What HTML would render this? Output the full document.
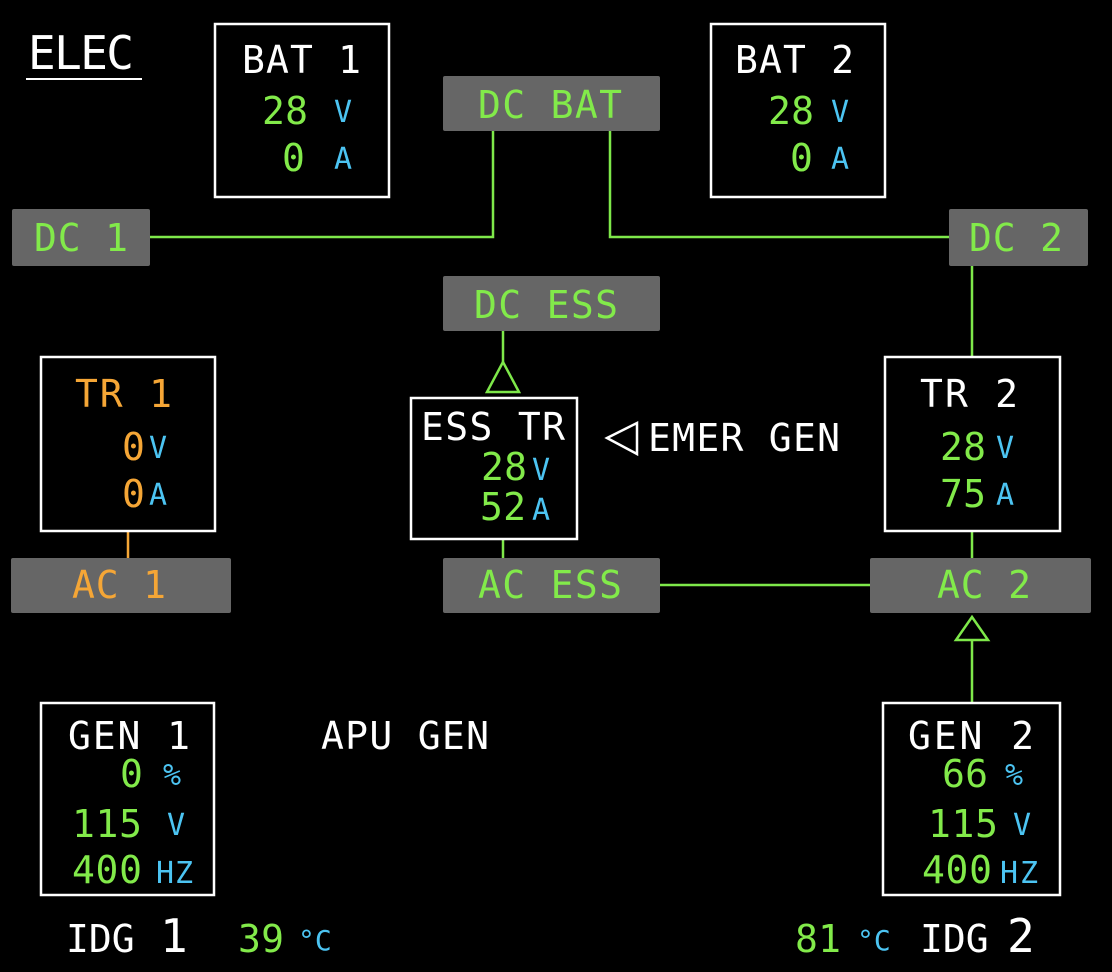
<!DOCTYPE html>
<html><head><meta charset="utf-8"><style>
html,body{margin:0;padding:0;background:#000;}
svg{display:block;}
text{font-family:"DejaVu Sans Mono","Liberation Mono",monospace;}
.w{fill:#fff}.g{fill:#82ea4a}.c{fill:#4cc4f2}.o{fill:#f5a636}
.L{font-size:38px}.u{font-size:30px}
</style></head><body>
<svg width="1112" height="972" viewBox="0 0 1112 972" xmlns="http://www.w3.org/2000/svg">
<rect width="1112" height="972" fill="#000"/>
<text x="28" y="69" class="w" font-size="46" textLength="106">ELEC</text>
<line x1="26" y1="79" x2="142" y2="79" stroke="#fff" stroke-width="2"/>
<g stroke="#7ee84a" stroke-width="2.5" fill="none">
<polyline points="150,237 493,237 493,131"/>
<polyline points="610,131 610,237 949,237"/>
<line x1="972" y1="266" x2="972" y2="357"/>
<line x1="503" y1="331" x2="503" y2="362"/>
<polygon points="503,362 487,392 519,392"/>
<line x1="503" y1="539" x2="503" y2="558"/>
<line x1="660" y1="585" x2="870" y2="585"/>
<line x1="972" y1="531" x2="972" y2="558"/>
<polygon points="972,617 956,640 988,640"/>
<line x1="972" y1="640" x2="972" y2="703"/>
</g>
<line x1="128" y1="531" x2="128" y2="558" stroke="#f5a636" stroke-width="2.5"/>
<polygon points="607,438 637,423 637,454" fill="none" stroke="#fff" stroke-width="2.5"/>
<g fill="none" stroke="#fff" stroke-width="2.5">
<rect x="215" y="24" width="174" height="173"/>
<rect x="711" y="24" width="174" height="173"/>
<rect x="41" y="357" width="174" height="174"/>
<rect x="885" y="357" width="175" height="174"/>
<rect x="411" y="398" width="166" height="141"/>
<rect x="41" y="703" width="173" height="192"/>
<rect x="883" y="703" width="177" height="192"/>
</g>
<g fill="#666">
<rect x="443" y="76" width="217" height="55" rx="2"/>
<rect x="12" y="209" width="138" height="57" rx="2"/>
<rect x="949" y="209" width="139" height="57" rx="2"/>
<rect x="443" y="276" width="217" height="55" rx="2"/>
<rect x="11" y="558" width="220" height="55" rx="2"/>
<rect x="443" y="558" width="217" height="55" rx="2"/>
<rect x="870" y="558" width="221" height="55" rx="2"/>
</g>
<g class="L">
<text x="478" y="118" class="g" textLength="144">DC BAT</text>
<text x="34" y="251" class="g" textLength="94">DC 1</text>
<text x="969" y="251" class="g" textLength="94">DC 2</text>
<text x="474" y="318" class="g" textLength="144">DC ESS</text>
<text x="72" y="598" class="o" textLength="94">AC 1</text>
<text x="478" y="598" class="g" textLength="144">AC ESS</text>
<text x="937" y="598" class="g" textLength="94">AC 2</text>
<text x="242" y="73" class="w" textLength="119">BAT 1</text>
<text x="262" y="124" class="g" textLength="46">28</text>
<text x="282" y="171" class="g">0</text>
<text x="735" y="73" class="w" textLength="119">BAT 2</text>
<text x="768" y="124" class="g" textLength="46">28</text>
<text x="790" y="171" class="g">0</text>
<text x="75" y="407" class="o" textLength="97">TR 1</text>
<text x="122" y="460" class="o">0</text>
<text x="122" y="507" class="o">0</text>
<text x="920" y="407" class="w" textLength="98">TR 2</text>
<text x="940" y="460" class="g" textLength="46">28</text>
<text x="940" y="507" class="g" textLength="46">75</text>
<text x="421" y="440" class="w" textLength="144">ESS TR</text>
<text x="481" y="480" class="g" textLength="46">28</text>
<text x="480" y="520" class="g" textLength="46">52</text>
<text x="648" y="451" class="w" textLength="192">EMER GEN</text>
<text x="321" y="749" class="w" textLength="168">APU GEN</text>
<text x="68" y="749" class="w" textLength="122">GEN 1</text>
<text x="120" y="787" class="g">0</text>
<text x="72" y="837" class="g" textLength="70">115</text>
<text x="72" y="883" class="g" textLength="70">400</text>
<text x="908" y="749" class="w" textLength="126">GEN 2</text>
<text x="942" y="787" class="g" textLength="46">66</text>
<text x="928" y="837" class="g" textLength="70">115</text>
<text x="922" y="883" class="g" textLength="70">400</text>
<text x="66" y="952" class="w">IDG</text>
<text x="238" y="952" class="g" textLength="46">39</text>
<text x="795" y="952" class="g" textLength="46">81</text>
<text x="920" y="952" class="w">IDG</text>
</g>
<g class="u c">
<text x="334" y="122">V</text>
<text x="334" y="169">A</text>
<text x="831" y="122">V</text>
<text x="831" y="169">A</text>
<text x="149" y="458">V</text>
<text x="149" y="505">A</text>
<text x="996" y="458">V</text>
<text x="996" y="505">A</text>
<text x="532" y="480">V</text>
<text x="532" y="520">A</text>
<text x="163" y="785">%</text>
<text x="167" y="835">V</text>
<text x="156" y="883" textLength="37">HZ</text>
<text x="1005" y="785">%</text>
<text x="1013" y="835">V</text>
<text x="1000" y="883" textLength="38">HZ</text>
<text x="298" y="950" font-size="28">°C</text>
<text x="857" y="950" font-size="28">°C</text>
</g>
<text x="160" y="952" class="w" font-size="46">1</text>
<text x="1007" y="952" class="w" font-size="46">2</text>
</svg>
</body></html>
